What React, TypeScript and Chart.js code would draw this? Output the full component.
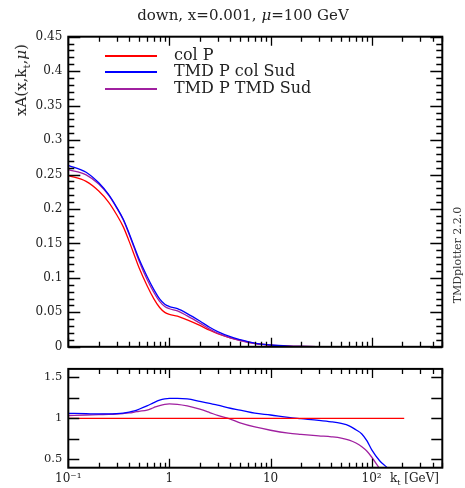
import React, { useEffect, useRef } from "react";
import { Chart, registerables } from "chart.js";

Chart.register(...registerables);

const FONT = "'DejaVu Serif', serif";

const seriesNames = ["col P", "TMD P col Sud", "TMD P TMD Sud"];
const seriesColors = ["#ff0000", "#0000ff", "#a020a0"];

// k_t grid [GeV]
const kt = [0.1, 0.15, 0.2, 0.25, 0.3, 0.35, 0.4, 0.45, 0.5, 0.6, 0.7, 0.8, 0.9, 1, 1.2, 1.5, 2, 2.5, 3, 4, 5, 7, 10, 15, 20, 30, 40, 50, 60, 70, 80, 90, 100, 120, 140, 170, 210];

// xA(x,kt,mu) — upper panel
const colP = [0.2485, 0.240, 0.226, 0.210, 0.192, 0.174, 0.153, 0.133, 0.115, 0.089, 0.070, 0.057, 0.050, 0.047, 0.0445, 0.039, 0.031, 0.024, 0.019, 0.013, 0.0095, 0.005, 0.0025, 0.001, 0.0005, 0.0002, 0.0001, 0.00005, 0.00003, 0.00002, 0.000015, 0.00001, 0.00001, 0.000005, 0.000003, 0.000002, 0.000001];
const tmdColSud = [0.2634, 0.2534, 0.238, 0.2211, 0.2028, 0.185, 0.1645, 0.145, 0.1277, 0.1024, 0.0833, 0.0695, 0.0618, 0.0584, 0.0553, 0.0482, 0.0374, 0.0283, 0.022, 0.0146, 0.0105, 0.0053, 0.0026, 0.001, 0.0005, 0.0002, 0.0001, 0.00005, 0.00003, 0.00002, 0.00001, 0.00001, 0.000006, 0.000002, 0.000001, 0.000001, 0];
const tmdTmdSud = [0.257, 0.2496, 0.2362, 0.2201, 0.202, 0.1841, 0.163, 0.143, 0.1248, 0.0979, 0.0791, 0.0658, 0.0585, 0.0552, 0.0521, 0.0449, 0.0344, 0.0257, 0.0197, 0.0129, 0.009, 0.0045, 0.0021, 0.0008, 0.0004, 0.00016, 0.00008, 0.00004, 0.00002, 0.00001, 0.00001, 0.000006, 0.000005, 0.000002, 0.000001, 0, 0];

// ratio to col P — lower panel
const ratioColP = [1, 1, 1, 1, 1, 1, 1, 1, 1, 1, 1, 1, 1, 1, 1, 1, 1, 1, 1, 1, 1, 1, 1, 1, 1, 1, 1, 1, 1, 1, 1, 1, 1, 1, 1, 1, 1];
const ratioTmdColSud = [1.06, 1.056, 1.053, 1.053, 1.056, 1.063, 1.075, 1.09, 1.11, 1.15, 1.19, 1.22, 1.236, 1.242, 1.242, 1.235, 1.205, 1.18, 1.16, 1.122, 1.10, 1.062, 1.04, 1.01, 0.995, 0.975, 0.957, 0.937, 0.909, 0.86, 0.81, 0.725, 0.62, 0.485, 0.41, 0.3, 0.2];
const ratioTmdTmdSud = [1.034, 1.04, 1.045, 1.048, 1.052, 1.058, 1.065, 1.075, 1.085, 1.10, 1.13, 1.155, 1.17, 1.174, 1.17, 1.15, 1.11, 1.07, 1.035, 0.99, 0.945, 0.895, 0.855, 0.82, 0.805, 0.787, 0.775, 0.76, 0.735, 0.70, 0.655, 0.60, 0.53, 0.39, 0.28, 0.2, 0.15];

// axes
const xMin = 0.1;
const xMax = 500;
const xMajorValues = [0.1, 1, 10, 100];
const xMajorLabels = ["10\u207B\u00B9", "1", "10", "10\u00B2"];
const topYMin = 0;
const topYMax = 0.45;
const botYMin = 0.4;
const botYMax = 1.6;
const botYTicks = [0.5, 0.75, 1, 1.25, 1.5];
const botYLabels = ["0.5", "", "1", "", "1.5"];

const xTickValues: number[] = [];
for (let e = -1; e <= 2; e++) {
  for (let m = 1; m <= 9; m++) {
    const v = m * Math.pow(10, e);
    if (v <= xMax) xTickValues.push(v);
  }
}
const topYTickValues: number[] = [];
for (let i = 0; i <= 45; i++) topYTickValues.push(i / 100);

const near = (a: number, b: number) => Math.abs(a - b) < 1e-9 * Math.max(1, Math.abs(b));
const isDecade = (v: number) => Math.abs(Math.log10(v) - Math.round(Math.log10(v))) < 1e-9;

function makeFramePlugin(isYMajor: (v: number) => boolean, yMajorLen: number, yMinorLen: number) {
  return {
    id: "frameTicks",
    afterDraw(chart: any) {
      const { ctx, chartArea, scales } = chart;
      const { left, right, top, bottom } = chartArea;
      ctx.save();
      ctx.strokeStyle = "#000";
      ctx.lineWidth = 1.3;
      ctx.beginPath();
      const xs = scales.x;
      xs.ticks.forEach((t: any) => {
        const px = Math.round(xs.getPixelForValue(t.value)) + 0.5;
        const len = isDecade(t.value) ? 9 : 5;
        ctx.moveTo(px, bottom);
        ctx.lineTo(px, bottom - len);
        ctx.moveTo(px, top);
        ctx.lineTo(px, top + len);
      });
      const ys = scales.y;
      ys.ticks.forEach((t: any) => {
        const py = Math.round(ys.getPixelForValue(t.value)) + 0.5;
        const len = isYMajor(t.value) ? yMajorLen : yMinorLen;
        ctx.moveTo(left, py);
        ctx.lineTo(left + len, py);
        ctx.moveTo(right, py);
        ctx.lineTo(right - len, py);
      });
      ctx.stroke();
      ctx.lineWidth = 2;
      ctx.strokeRect(left, top, right - left, bottom - top);
      ctx.restore();
    },
  };
}

const line = (label: string, color: string, ys: number[]) => ({
  label,
  data: kt.map((x, i) => ({ x, y: ys[i] })),
  borderColor: color,
  backgroundColor: color,
  borderWidth: 1.3,
  pointRadius: 0,
  fill: false,
  cubicInterpolationMode: "monotone" as const,
});

export default function App() {
  const topRef = useRef<HTMLCanvasElement>(null);
  const botRef = useRef<HTMLCanvasElement>(null);

  useEffect(() => {
    const xScaleBase = {
      type: "logarithmic" as const,
      min: xMin,
      max: xMax,
      grid: { display: false, drawTicks: false },
      border: { display: false },
      afterBuildTicks: (s: any) => {
        s.ticks = xTickValues.map((value) => ({ value }));
      },
    };

    const topChart = new Chart(topRef.current!, {
      type: "line",
      data: {
        datasets: [
          line(seriesNames[1], seriesColors[1], tmdColSud),
          line(seriesNames[2], seriesColors[2], tmdTmdSud),
          line(seriesNames[0], seriesColors[0], colP),
        ],
      },
      options: {
        responsive: false,
        animation: false,
        devicePixelRatio: 1,
        layout: { padding: { left: 0, right: 22.7, top: 36.7, bottom: 11 } },
        plugins: { legend: { display: false }, tooltip: { enabled: false } },
        scales: {
          x: {
            ...xScaleBase,
            ticks: { display: false },
            afterFit: (s: any) => {
              s.height = 0;
            },
          },
          y: {
            type: "linear",
            min: topYMin,
            max: topYMax,
            grid: { display: false, drawTicks: false },
            border: { display: false },
            afterBuildTicks: (s: any) => {
              s.ticks = topYTickValues.map((value) => ({ value }));
            },
            afterFit: (s: any) => {
              s.width = 68.3;
            },
            ticks: {
              autoSkip: false,
              padding: 6,
              color: "#222",
              font: { family: FONT, size: 12 },
              callback: (v: any) => (Math.round(Number(v) * 100) % 5 === 0 ? String(+Number(v).toFixed(2)) : ""),
            },
          },
        },
      },
      plugins: [makeFramePlugin((v) => Math.round(v * 100) % 5 === 0, 12, 6)],
    });

    const botChart = new Chart(botRef.current!, {
      type: "line",
      data: {
        datasets: [
          line(seriesNames[0], seriesColors[0], ratioColP),
          line(seriesNames[1], seriesColors[1], ratioTmdColSud),
          line(seriesNames[2], seriesColors[2], ratioTmdTmdSud),
        ],
      },
      options: {
        responsive: false,
        animation: false,
        devicePixelRatio: 1,
        layout: { padding: { left: 0, right: 22.7, top: 6.7, bottom: 0 } },
        plugins: { legend: { display: false }, tooltip: { enabled: false } },
        scales: {
          x: {
            ...xScaleBase,
            afterFit: (s: any) => {
              s.height = 20.3;
            },
            ticks: {
              autoSkip: false,
              maxRotation: 0,
              padding: 4,
              color: "#222",
              font: { family: FONT, size: 12 },
              callback: (v: any) => {
                const idx = xMajorValues.findIndex((m) => near(Number(v), m));
                return idx >= 0 ? xMajorLabels[idx] : "";
              },
            },
          },
          y: {
            type: "linear",
            min: botYMin,
            max: botYMax,
            grid: { display: false, drawTicks: false },
            border: { display: false },
            afterBuildTicks: (s: any) => {
              s.ticks = botYTicks.map((value) => ({ value }));
            },
            afterFit: (s: any) => {
              s.width = 68.3;
            },
            ticks: {
              autoSkip: false,
              padding: 6,
              color: "#222",
              font: { family: FONT, size: 11.5 },
              callback: (v: any) => {
                const idx = botYTicks.findIndex((m) => near(Number(v), m));
                return idx >= 0 ? botYLabels[idx] : "";
              },
            },
          },
        },
      },
      plugins: [makeFramePlugin(() => true, 11, 6)],
    });

    return () => {
      topChart.destroy();
      botChart.destroy();
    };
  }, []);

  const abs = (extra: React.CSSProperties): React.CSSProperties => ({ position: "absolute", whiteSpace: "nowrap", ...extra });

  return (
    <div style={{ position: "fixed", left: 0, top: 0, width: 465, height: 488, background: "#fff", fontFamily: FONT, color: "#222", overflow: "hidden" }}>
      <canvas ref={topRef} width={465} height={360} style={{ position: "absolute", left: 0, top: 0 }} />
      <canvas ref={botRef} width={465} height={132} style={{ position: "absolute", left: 0, top: 356 }} />

      <div style={abs({ left: 243, top: 15, transform: "translate(-50%, -50%)", fontSize: 15 })}>
        down, x=0.001, <i>μ</i>=100 GeV
      </div>

      <div style={abs({ left: 22, top: 80, transform: "translate(-50%, -50%) rotate(-90deg)", fontSize: 15 })}>
        xA(x,k<sub style={{ fontSize: 10 }}>t</sub>,<i>μ</i>)
      </div>

      <div style={abs({ left: 398, top: 248, width: 120, height: 14, lineHeight: "14px", textAlign: "center", transform: "rotate(-90deg)", fontSize: 11, color: "#333" })}>
        TMDplotter 2.2.0
      </div>

      <div style={abs({ left: 390, top: 470, fontSize: 12, lineHeight: "16px" })}>
        k<sub style={{ fontSize: 8 }}>t</sub> [GeV]
      </div>

      {seriesNames.map((name, i) => (
        <div key={name} style={abs({ left: 105, top: 47 + Math.round(16.35 * i), height: 16, width: 240 })}>
          <div style={{ position: "absolute", left: 0, top: 8, width: 52, height: 2, backgroundColor: seriesColors[i] }} />
          <span style={{ position: "absolute", left: 69, top: 0, fontSize: 16, lineHeight: "16px" }}>{name}</span>
        </div>
      ))}
    </div>
  );
}
